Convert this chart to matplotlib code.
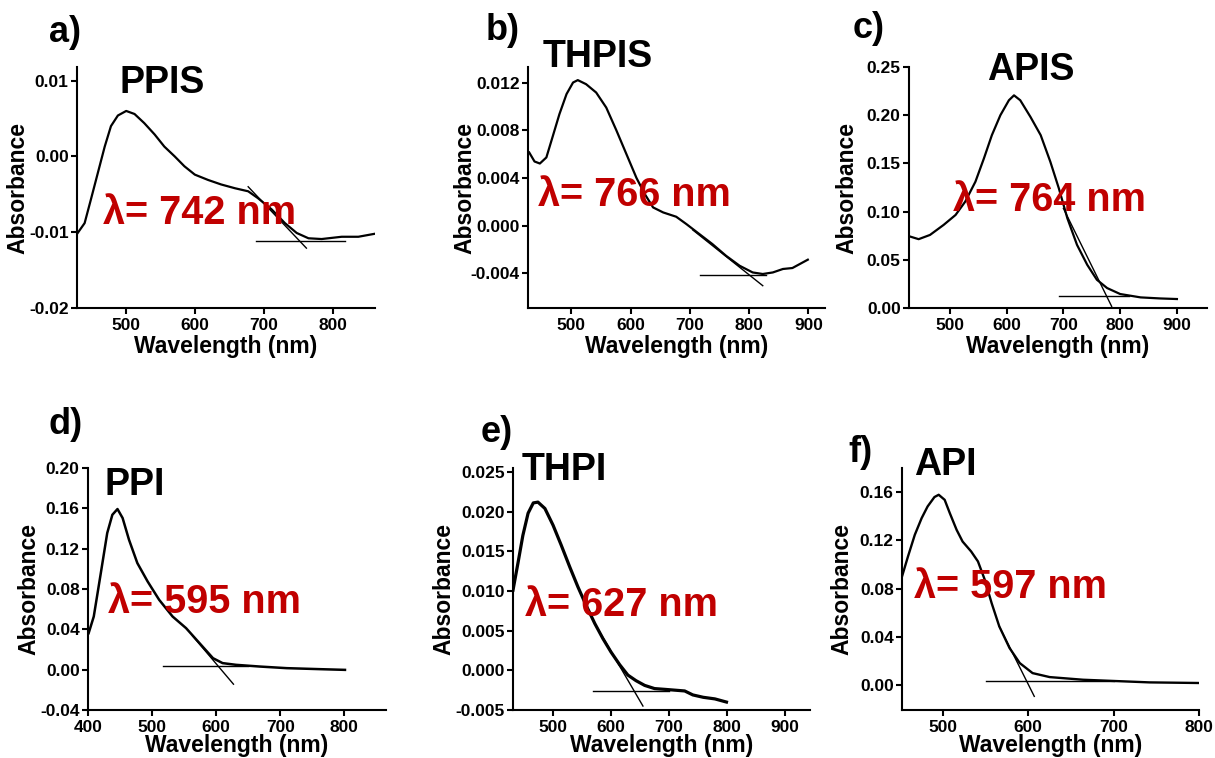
import numpy as np
import matplotlib
matplotlib.use('Agg')
import matplotlib.pyplot as plt
from matplotlib.ticker import FormatStrFormatter

plt.rcParams['font.family'] = ['Liberation Sans', 'DejaVu Sans']
plt.rcParams['font.weight'] = 'bold'
plt.rcParams['axes.unicode_minus'] = False

# ── 数据─────────────────────────────────────────────────
# a) PPIS
ppis_wl = [431, 441, 450, 460, 470, 479, 489, 501, 513, 527, 542, 556, 571, 585, 600,
           619, 638, 658, 677, 691, 711, 730, 747, 764, 783, 812, 836, 860]
ppis_abs = [-0.0101, -0.0088, -0.0057, -0.0022, 0.0013, 0.0040, 0.0054, 0.0060, 0.0056,
            0.0044, 0.0029, 0.0013, 0.0000, -0.0013, -0.0024, -0.0031, -0.0037, -0.0042,
            -0.0046, -0.0055, -0.0070, -0.0088, -0.0101, -0.0108, -0.0109, -0.0106,
            -0.0106, -0.0102]
ppis_tan = ([677, 761], [-0.0040, -0.0121])
ppis_base = ([689, 817], [-0.0111, -0.0111])

# b) THPIS
thpis_wl = [429, 438, 447, 458, 469, 480, 492, 503, 511, 525, 542, 559, 576, 593, 610,
            624, 638, 655, 677, 694, 716, 738, 761, 784, 806, 823, 840, 857, 873, 899]
thpis_abs = [0.00614, 0.00538, 0.00521, 0.00572, 0.00753, 0.00935, 0.01103, 0.0120,
             0.0122, 0.01186, 0.01116, 0.0099, 0.0080, 0.0060, 0.0040, 0.00265, 0.00153,
             0.00111, 0.00075, 0.00014, -0.00070, -0.00154, -0.00252, -0.00336, -0.00392,
             -0.00405, -0.00392, -0.00363, -0.00355, -0.00285]
thpis_tan = ([705, 823], [-0.00036, -0.00503])
thpis_base = ([717, 829], [-0.00413, -0.00413])

# c) APIS
apis_wl = [430, 445, 465, 489, 510, 527, 545, 560, 574, 589, 604, 613, 624, 642, 660,
           677, 692, 707, 724, 742, 759, 777, 800, 836, 871, 900]
apis_abs = [0.0741, 0.0714, 0.0758, 0.0862, 0.0965, 0.1103, 0.1310, 0.1552, 0.1793,
            0.2000, 0.2155, 0.2206, 0.2155, 0.1982, 0.1793, 0.1517, 0.1241, 0.0931,
            0.0655, 0.0448, 0.0293, 0.0207, 0.0145, 0.0110, 0.0099, 0.0093]
apis_tan = ([700, 785], [0.1034, 0.0017])
apis_base = ([692, 815], [0.0120, 0.0120])

# d) PPI
ppi_wl = [401, 409, 420, 430, 438, 446, 454, 464, 477, 493, 511, 532, 553, 574, 595,
          610, 631, 668, 710, 762, 801]
ppi_abs = [0.0362, 0.0527, 0.0958, 0.1355, 0.1536, 0.1593, 0.1504, 0.1288, 0.1057,
           0.0875, 0.0693, 0.0527, 0.0412, 0.0263, 0.0114, 0.0065, 0.0048, 0.0031,
           0.0015, 0.0005, -0.0002]
ppi_tan = ([563, 627], [0.0336, -0.0144])
ppi_base = ([517, 650], [0.0041, 0.0041])

# e) THPI
thpi_wl = [431, 440, 448, 457, 466, 474, 486, 500, 514, 529, 543, 557, 572, 586, 600,
           615, 629, 643, 658, 675, 693, 710, 727, 741, 759, 779, 799]
thpi_abs = [0.0101, 0.0137, 0.0170, 0.0198, 0.0211, 0.0212, 0.0204, 0.0183, 0.0158,
            0.0130, 0.0105, 0.0082, 0.0059, 0.0040, 0.0023, 0.0007, -0.0006, -0.0013,
            -0.0019, -0.0023, -0.0024, -0.0025, -0.0026, -0.0031, -0.0034, -0.0036,
            -0.0040]
thpi_tan = ([572, 655], [0.0059, -0.0045])
thpi_base = ([569, 700], [-0.00257, -0.00257])

# f) API
api_wl = [452, 459, 467, 475, 482, 490, 495, 502, 508, 516, 523, 533, 541, 549, 557,
          566, 578, 590, 605, 625, 664, 703, 742, 799]
api_abs = [0.0900, 0.1066, 0.1246, 0.1384, 0.1481, 0.1559, 0.1578, 0.1536, 0.1426,
           0.1287, 0.1190, 0.1108, 0.1025, 0.0873, 0.0680, 0.0486, 0.0307, 0.0182,
           0.0099, 0.0066, 0.0044, 0.0033, 0.0022, 0.0017]
api_tan = ([566, 607], [0.0486, -0.0094])
api_base = ([551, 700], [0.0036, 0.0036])

names = ['PPIS', 'THPIS', 'APIS', 'PPI', 'THPI', 'API']
letters = ['a)', 'b)', 'c)', 'd)', 'e)', 'f)']
lambda_labels = ['λ= 742 nm', 'λ= 766 nm', 'λ= 764 nm', 'λ= 595 nm', 'λ= 627 nm', 'λ= 597 nm']

# ── 布局（像素 → 比例）─────────────────────────────────────────
W, H = 1215, 758
panels = [
    dict(wl=ppis_wl, ab=ppis_abs, tan=ppis_tan, base=ppis_base, lw=1.6, xly=-0.11,
         box=(77, 375, 67, 308), xlim=(430, 860), ylim=(-0.02, 0.0118),
         yt=np.arange(-0.02, 0.011, 0.01), fmt='%.2f', xt=[500, 600, 700, 800],
         title=(0.141, 0.934), lam=(0.087, 0.394), lab=(49, 33), ylx=-0.161),
    dict(wl=thpis_wl, ab=thpis_abs, tan=thpis_tan, base=thpis_base, lw=1.6, xly=-0.11,
         box=(528, 825, 67, 308), xlim=(427, 928), ylim=(-0.0069, 0.0133),
         yt=np.arange(-0.004, 0.0121, 0.004), fmt='%.3f', xt=[500, 600, 700, 800, 900],
         title=(0.05, 1.041), lam=(0.034, 0.469), lab=(486, 30), ylx=-0.172),
    dict(wl=apis_wl, ab=apis_abs, tan=apis_tan, base=apis_base, lw=1.6, xly=-0.11,
         box=(909, 1207, 67, 308), xlim=(428, 953), ylim=(0, 0.25),
         yt=np.arange(0, 0.251, 0.05), fmt='%.2f', xt=[500, 600, 700, 800, 900],
         title=(0.262, 0.988), lam=(0.148, 0.448), lab=(853, 28), ylx=-0.171),
    dict(wl=ppi_wl, ab=ppi_abs, tan=ppi_tan, base=ppi_base, lw=1.8, xly=-0.10,
         box=(88, 386, 468, 710), xlim=(400, 865), ylim=(-0.04, 0.20),
         yt=np.arange(-0.04, 0.201, 0.04), fmt='%.2f', xt=[400, 500, 600, 700, 800],
         title=(0.054, 0.93), lam=(0.067, 0.446), lab=(48, 425), ylx=-0.161),
    dict(wl=thpi_wl, ab=thpi_abs, tan=thpi_tan, base=thpi_base, lw=2.3, xly=-0.10,
         box=(513, 810, 468, 710), xlim=(431, 943), ylim=(-0.005, 0.0255),
         yt=np.arange(-0.005, 0.0251, 0.005), fmt='%.3f', xt=[500, 600, 700, 800, 900],
         title=(0.03, 0.992), lam=(0.04, 0.434), lab=(481, 432), ylx=-0.195),
    dict(wl=api_wl, ab=api_abs, tan=api_tan, base=api_base, lw=1.7, xly=-0.10,
         box=(902, 1199, 468, 710), xlim=(452, 800), ylim=(-0.0207, 0.18),
         yt=np.arange(0, 0.161, 0.04), fmt='%.2f', xt=[500, 600, 700, 800],
         title=(0.04, 1.012), lam=(0.04, 0.508), lab=(848, 452), ylx=-0.165),
]

fig = plt.figure(figsize=(W / 100, H / 100), dpi=100)

for p, name, letter, lam_text in zip(panels, names, letters, lambda_labels):
    x0, x1, yt, yb = p['box']
    ax = fig.add_axes([x0 / W, 1 - yb / H, (x1 - x0) / W, (yb - yt) / H])

    # 光谱曲线 + 切线 + 基线（切线法求吸收边）
    ax.plot(p['wl'], p['ab'], color='black', lw=p['lw'], solid_joinstyle='round')
    ax.plot(*p['tan'], color='black', lw=1.0)
    ax.plot(*p['base'], color='black', lw=1.0)

    ax.set_xlim(*p['xlim'])
    ax.set_ylim(*p['ylim'])
    ax.set_xticks(p['xt'])
    ax.set_yticks(p['yt'])
    ax.yaxis.set_major_formatter(FormatStrFormatter(p['fmt']))

    for s in ['top', 'right']:
        ax.spines[s].set_visible(False)
    for s in ['left', 'bottom']:
        ax.spines[s].set_linewidth(1.5)
    ax.tick_params(direction='out', length=4, width=1.5, labelsize=12.5, pad=2)
    ax.tick_params(axis='x', pad=3.5)
    for lbl in ax.get_xticklabels() + ax.get_yticklabels():
        lbl.set_fontweight('bold')

    ax.set_xlabel('Wavelength (nm)', fontsize=16.5, fontweight='bold')
    ax.set_ylabel('Absorbance', fontsize=16.5, fontweight='bold')
    ax.xaxis.set_label_coords(0.5, p['xly'])
    ax.yaxis.set_label_coords(p['ylx'], 0.5)

    ax.text(*p['title'], name, transform=ax.transAxes, ha='left', va='center',
            fontsize=27, fontweight='bold', clip_on=False)
    ax.text(*p['lam'], lam_text, transform=ax.transAxes, ha='left', va='center',
            fontsize=28.5, fontweight='bold', color='#C00000', clip_on=False)

    lx, ly = p['lab']
    fig.text(lx / W, 1 - ly / H, letter, ha='left', va='center',
             fontsize=26, fontweight='bold')

fig.savefig('out.png', dpi=100)
